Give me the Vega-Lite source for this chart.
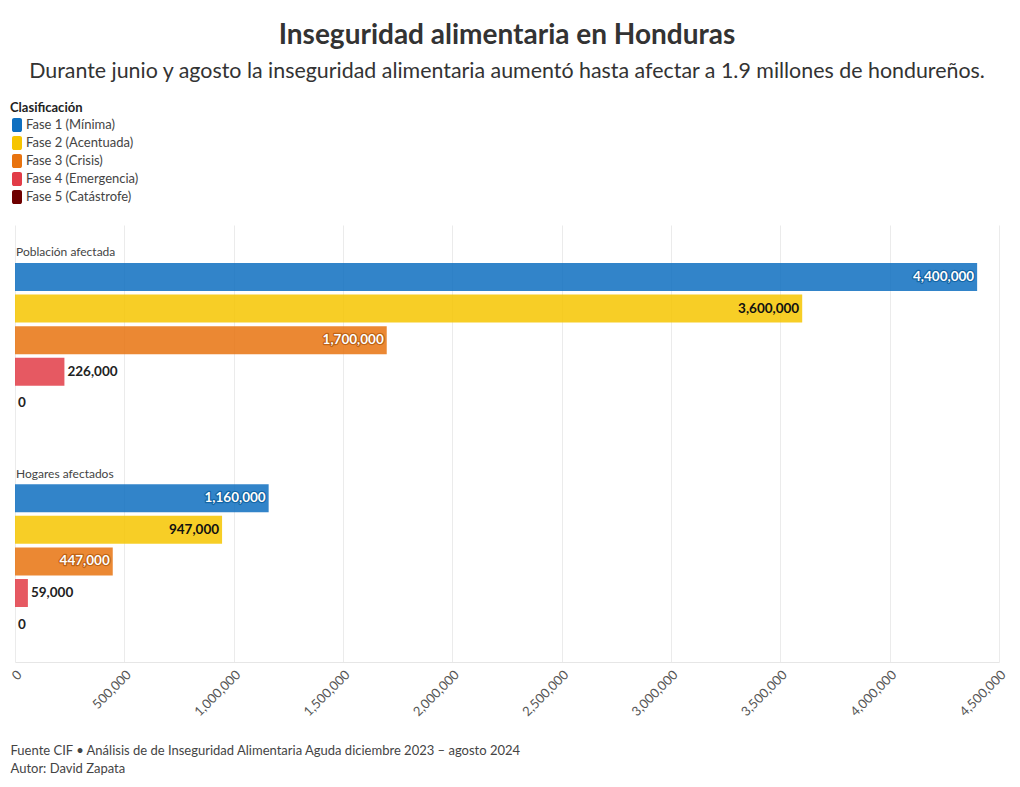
{
  "$schema": "https://vega.github.io/schema/vega-lite/v6.json",
  "autosize": {"type": "none"},
  "width": 984,
  "height": 437,
  "padding": {"left": 15, "top": 225, "right": 21, "bottom": 125},
  "background": "white",
  "config": {
    "font": "Lato",
    "view": {"stroke": null}
  },
  "title": {
    "text": "Inseguridad alimentaria en Honduras",
    "subtitle": "Durante junio y agosto la inseguridad alimentaria aumentó hasta afectar a 1.9 millones de hondureños.",
    "anchor": "middle",
    "frame": "group",
    "fontSize": 28,
    "fontWeight": "bold",
    "color": "#333333",
    "subtitleFontSize": 21.4,
    "subtitleColor": "#333333",
    "subtitlePadding": 11,
    "offset": 20
  },
  "data": {
    "values": [
      {"fila": "P1", "grupo": "Población afectada", "fase": "Fase 1 (Mínima)", "valor": 4400000},
      {"fila": "P2", "grupo": "Población afectada", "fase": "Fase 2 (Acentuada)", "valor": 3600000},
      {"fila": "P3", "grupo": "Población afectada", "fase": "Fase 3 (Crisis)", "valor": 1700000},
      {"fila": "P4", "grupo": "Población afectada", "fase": "Fase 4 (Emergencia)", "valor": 226000},
      {"fila": "P5", "grupo": "Población afectada", "fase": "Fase 5 (Catástrofe)", "valor": 0},
      {"fila": "H1", "grupo": "Hogares afectados", "fase": "Fase 1 (Mínima)", "valor": 1160000},
      {"fila": "H2", "grupo": "Hogares afectados", "fase": "Fase 2 (Acentuada)", "valor": 947000},
      {"fila": "H3", "grupo": "Hogares afectados", "fase": "Fase 3 (Crisis)", "valor": 447000},
      {"fila": "H4", "grupo": "Hogares afectados", "fase": "Fase 4 (Emergencia)", "valor": 59000},
      {"fila": "H5", "grupo": "Hogares afectados", "fase": "Fase 5 (Catástrofe)", "valor": 0}
    ]
  },
  "encoding": {
    "y": {
      "field": "fila",
      "type": "ordinal",
      "scale": {
        "domain": ["PH", "P1", "P2", "P3", "P4", "P5", "G", "HH", "H1", "H2", "H3", "H4", "H5"],
        "paddingInner": 0.114,
        "paddingOuter": 0.472,
        "align": 0.215
      },
      "axis": null
    }
  },
  "layer": [
    {
      "mark": {"type": "bar", "opacity": 0.85},
      "encoding": {
        "x": {
          "field": "valor",
          "type": "quantitative",
          "scale": {"domain": [0, 4500000], "nice": false},
          "axis": {
            "values": [0, 500000, 1000000, 1500000, 2000000, 2500000, 3000000, 3500000, 4000000, 4500000],
            "format": ",.0f",
            "labelAngle": -45,
            "labelFontSize": 13,
            "labelColor": "#555555",
            "labelPadding": 6,
            "grid": true,
            "gridColor": "#ebebeb",
            "domainColor": "#e6e6e6",
            "ticks": false,
            "title": ["Fuente CIF • Análisis de de Inseguridad Alimentaria Aguda diciembre 2023 – agosto 2024", "Autor: David Zapata"],
            "titleAnchor": "start",
            "titleAlign": "left",
            "titleBaseline": "top",
            "titleX": -5,
            "titleY": 82,
            "titleFontSize": 13,
            "titleFontWeight": "normal",
            "titleColor": "#444444",
            "titleLineHeight": 18
          }
        },
        "color": {
          "field": "fase",
          "type": "nominal",
          "scale": {
            "domain": ["Fase 1 (Mínima)", "Fase 2 (Acentuada)", "Fase 3 (Crisis)", "Fase 4 (Emergencia)", "Fase 5 (Catástrofe)"],
            "range": ["#0E6FC0", "#F6C500", "#E8730F", "#E23C47", "#6E0000"]
          },
          "legend": {
            "title": "Clasificación",
            "orient": "none",
            "legendX": -5,
            "legendY": -123,
            "titleFontSize": 13,
            "titleFontWeight": "bold",
            "titleColor": "#222222",
            "titlePadding": 3,
            "labelFontSize": 13,
            "labelColor": "#444444",
            "labelOffset": 2,
            "rowPadding": 4,
            "symbolType": "M-0.414,-1H0.414A0.3,0.3 0 0 1 0.714,-0.7V0.7A0.3,0.3 0 0 1 0.414,1H-0.414A0.3,0.3 0 0 1 -0.714,0.7V-0.7A0.3,0.3 0 0 1 -0.414,-1Z",
            "symbolSize": 196,
            "symbolOpacity": 1,
            "symbolStrokeWidth": 0
          }
        }
      }
    },
    {
      "transform": [{"filter": "datum.valor >= 400000 && datum.fase !== 'Fase 2 (Acentuada)'"}],
      "mark": {"type": "text", "align": "right", "baseline": "middle", "dx": -3, "fontSize": 13.5, "fontWeight": "bold", "strokeWidth": 2.5, "strokeJoin": "round", "strokeOpacity": 0.8},
      "encoding": {
        "x": {"field": "valor", "type": "quantitative"},
        "text": {"field": "valor", "type": "quantitative", "format": ",.0f"},
        "stroke": {
          "field": "fase",
          "type": "nominal",
          "scale": {
            "domain": ["Fase 1 (Mínima)", "Fase 3 (Crisis)"],
            "range": ["#0B5E9E", "#B85A0C"]
          },
          "legend": null
        }
      }
    },
    {
      "transform": [{"filter": "datum.valor >= 400000"}],
      "mark": {"type": "text", "align": "right", "baseline": "middle", "dx": -3, "fontSize": 13.5, "fontWeight": "bold"},
      "encoding": {
        "x": {"field": "valor", "type": "quantitative"},
        "text": {"field": "valor", "type": "quantitative", "format": ",.0f"},
        "color": {
          "condition": {"test": "datum.fase === 'Fase 2 (Acentuada)'", "value": "#111111"},
          "value": "white"
        }
      }
    },
    {
      "transform": [{"filter": "datum.valor < 400000"}],
      "mark": {"type": "text", "align": "left", "baseline": "middle", "dx": 3, "fontSize": 13.5, "fontWeight": "bold", "color": "#222222"},
      "encoding": {
        "x": {"field": "valor", "type": "quantitative"},
        "text": {"field": "valor", "type": "quantitative", "format": ",.0f"}
      }
    },
    {
      "data": {
        "values": [
          {"fila": "PH", "texto": "Población afectada"},
          {"fila": "HH", "texto": "Hogares afectados"}
        ]
      },
      "mark": {"type": "text", "align": "left", "baseline": "middle", "dx": 1, "dy": 7, "fontSize": 12, "color": "#444444"},
      "encoding": {
        "x": {"datum": 0, "type": "quantitative"},
        "text": {"field": "texto", "type": "nominal"}
      }
    }
  ]
}
